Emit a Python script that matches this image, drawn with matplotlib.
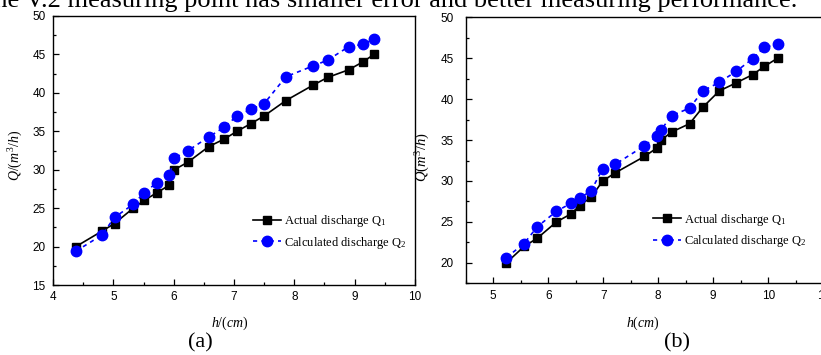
import matplotlib
matplotlib.use("Agg")
import matplotlib.pyplot as plt
from matplotlib.ticker import MultipleLocator

plt.rcParams['font.family'] = ['Liberation Sans', 'DejaVu Sans']
plt.rcParams['mathtext.fontset'] = 'custom'
plt.rcParams['mathtext.rm'] = 'Liberation Serif'
plt.rcParams['mathtext.it'] = 'Liberation Serif:italic'
plt.rcParams['mathtext.bf'] = 'Liberation Serif:bold'

# ---- data (a)
h_a = [4.38, 4.81, 5.02, 5.33, 5.51, 5.72, 5.93, 6.01, 6.24, 6.58,
       6.84, 7.05, 7.28, 7.50, 7.86, 8.31, 8.55, 8.90, 9.13, 9.32]
q1_a = [20.0, 22.0, 23.0, 25.0, 26.0, 27.0, 28.0, 30.0, 31.0, 33.0,
        34.0, 35.0, 36.0, 37.0, 39.0, 41.0, 42.0, 43.0, 44.0, 45.0]
q2_a = [19.4, 21.5, 23.8, 25.5, 27.0, 28.3, 29.3, 31.5, 32.5, 34.25,
        35.55, 37.0, 37.85, 38.6, 42.1, 43.5, 44.25, 46.0, 46.3, 47.0]

# ---- data (b)
h_b = [5.24, 5.56, 5.80, 6.15, 6.42, 6.57, 6.78, 6.99, 7.22, 7.75,
       7.97, 8.05, 8.25, 8.57, 8.81, 9.11, 9.42, 9.72, 9.93, 10.17]
q1_b = [20.0, 22.0, 23.0, 25.0, 26.0, 27.0, 28.0, 30.0, 31.0, 33.0,
        34.0, 35.0, 36.0, 37.0, 39.0, 41.0, 42.0, 43.0, 44.0, 45.0]
q2_b = [20.65, 22.35, 24.4, 26.3, 27.3, 27.9, 28.8, 31.5, 32.05, 34.3,
        35.45, 36.25, 38.0, 38.9, 41.0, 42.05, 43.4, 44.96, 46.35, 46.7]

label1 = r'Actual discharge Q$_{1}$'
label2 = r'Calculated discharge Q$_{2}$'

W, H = 821, 355
fig = plt.figure(figsize=(W / 100, H / 100), dpi=100)

def fx(px):
    return px / W

def fy(py):
    return 1 - py / H

ax1 = fig.add_axes([fx(53), fy(285), (415 - 53) / W, (285 - 16) / H])
ax2 = fig.add_axes([fx(465.7), fy(283.3), 385 / W, (283.3 - 17.3) / H])

for ax, h, q1, q2 in [(ax1, h_a, q1_a, q2_a), (ax2, h_b, q1_b, q2_b)]:
    ax.plot(h, q1, color='black', lw=1.2, marker='s', ms=6, label=label1, zorder=3)
    ax.plot(h, q2, color='#0000ff', lw=1.2, ls=(0, (2.5, 2.5)), marker='o', ms=7.5,
            label=label2, zorder=4)
    for s in ax.spines.values():
        s.set_linewidth(1.0)
    ax.xaxis.set_major_locator(MultipleLocator(1))
    ax.xaxis.set_minor_locator(MultipleLocator(0.5))
    ax.yaxis.set_major_locator(MultipleLocator(5))
    ax.yaxis.set_minor_locator(MultipleLocator(2.5))
    ax.tick_params(which='both', direction='in', top=False, right=False, labelsize=8.5,
                   width=0.9)
    ax.tick_params(which='major', length=4)
    ax.tick_params(which='minor', length=2.5)

ax1.set_xlim(4, 10)
ax1.set_ylim(15, 50)
ax2.set_xlim(4.5, 11.5)
ax2.set_ylim(17.5, 50)

ax1.tick_params(axis='x', pad=4.3)
ax1.tick_params(axis='y', pad=5.4)
ax2.tick_params(axis='x', pad=4.8)
ax2.tick_params(axis='y', pad=8.5)

ax1.set_ylabel(r'$Q/(m^{3}/h)$', fontsize=10)
ax1.yaxis.set_label_coords(-0.077, 0.483)
ax1.set_xlabel(r'$h/(cm)$', fontsize=10)
ax1.xaxis.set_label_coords(0.489, -0.1115)

ax2.set_ylabel(r'$Q(m^{3}/h)$', fontsize=10.5)
ax2.yaxis.set_label_coords(-0.0875, 0.475)
ax2.set_xlabel(r'$h(cm)$', fontsize=10)
ax2.xaxis.set_label_coords(0.4605, -0.119)

leg_kw = dict(frameon=False, handlelength=2.2, handletextpad=0.3,
              labelspacing=0.45, borderpad=0, borderaxespad=0, loc='center left',
              bbox_transform=fig.transFigure,
              prop={'family': 'Liberation Serif', 'size': 9})
ax1.legend(bbox_to_anchor=(fx(253), fy(231.7)), **leg_kw)
ax2.legend(bbox_to_anchor=(fx(653), fy(230.5)), **leg_kw)

fig.text(fx(200), fy(343), '(a)', ha='center', va='center', fontsize=16,
         family='Liberation Serif')
fig.text(fx(677), fy(343), '(b)', ha='center', va='center', fontsize=16,
         family='Liberation Serif')

fig.text(fx(797), fy(6.5), 'the V.2 measuring point has smaller error and better measuring performance.',
         ha='right', va='baseline', fontsize=19, family='Liberation Serif')

fig.savefig('out.png', dpi=100)
